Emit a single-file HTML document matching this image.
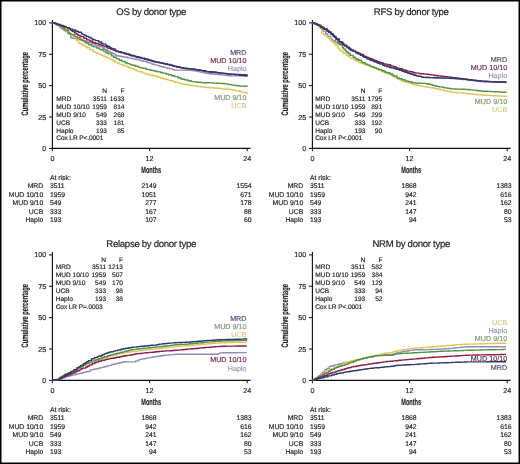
<!DOCTYPE html>
<html><head><meta charset="utf-8"><style>
html,body{margin:0;padding:0;background:#fff;}
body{width:520px;height:464px;overflow:hidden;}
svg{display:block;font-family:"Liberation Sans", sans-serif;text-rendering:geometricPrecision;}
text{stroke-width:0.16px;}
</style></head><body>
<svg width="520" height="464" viewBox="0 0 520 464">
<defs><filter id="bl" x="0" y="0" width="1" height="1"><feGaussianBlur stdDeviation="0.35"/></filter></defs>
<g filter="url(#bl)">
<rect x="0" y="0" width="520" height="464" fill="#fff"/>
<g transform="translate(0 0)"><text x="151.2" y="15" font-size="9.6" text-anchor="middle" fill="#1a1a1a" stroke="#1a1a1a" letter-spacing="-0.3">OS by donor type</text><path d="M52.4 20V149M51.8 148.4H250.5" stroke="#111" stroke-width="1.15" fill="none"/><path d="M49 148.40H52.4" stroke="#111" stroke-width="1"/><text x="46.2" y="150.9" font-size="7.2" text-anchor="end" fill="#222" stroke="#222" >0</text><path d="M49 117.03H52.4" stroke="#111" stroke-width="1"/><text x="46.2" y="119.525" font-size="7.2" text-anchor="end" fill="#222" stroke="#222" >25</text><path d="M49 85.65H52.4" stroke="#111" stroke-width="1"/><text x="46.2" y="88.15" font-size="7.2" text-anchor="end" fill="#222" stroke="#222" >50</text><path d="M49 54.28H52.4" stroke="#111" stroke-width="1"/><text x="46.2" y="56.77500000000002" font-size="7.2" text-anchor="end" fill="#222" stroke="#222" >75</text><path d="M49 22.90H52.4" stroke="#111" stroke-width="1"/><text x="46.2" y="25.40000000000002" font-size="7.2" text-anchor="end" fill="#222" stroke="#222" >100</text><path d="M52.4 148.4V151.2" stroke="#111" stroke-width="1"/><text x="52.4" y="160.9" font-size="7.2" text-anchor="middle" fill="#222" stroke="#222" >0</text><path d="M149.6 148.4V151.2" stroke="#111" stroke-width="1"/><text x="149.6" y="160.9" font-size="7.2" text-anchor="middle" fill="#222" stroke="#222" >12</text><path d="M247.2 148.4V151.2" stroke="#111" stroke-width="1"/><text x="247.2" y="160.9" font-size="7.2" text-anchor="middle" fill="#222" stroke="#222" >24</text><text transform="translate(28.4 83.7) rotate(-90) scale(0.607 1)" font-size="9.5" font-weight="bold" text-anchor="middle" fill="#222" stroke="#222" stroke-width="0.15">Cumulative percentage</text><text transform="translate(151.2 173.4) scale(0.615 1)" font-size="9.15" font-weight="bold" text-anchor="middle" fill="#222" stroke="#222" stroke-width="0.15">Months</text><text x="107" y="93" font-size="6.6" text-anchor="end" fill="#222" stroke="#222" >N</text><text x="124.5" y="93" font-size="6.6" text-anchor="end" fill="#222" stroke="#222" >F</text><text x="56.3" y="100.9" font-size="6.6" text-anchor="start" fill="#222" stroke="#222" >MRD</text><text x="107" y="100.9" font-size="6.6" text-anchor="end" fill="#222" stroke="#222" >3511</text><text x="124.5" y="100.9" font-size="6.6" text-anchor="end" fill="#222" stroke="#222" >1633</text><text x="56.3" y="108.8" font-size="6.6" text-anchor="start" fill="#222" stroke="#222" >MUD 10/10</text><text x="107" y="108.8" font-size="6.6" text-anchor="end" fill="#222" stroke="#222" >1959</text><text x="124.5" y="108.8" font-size="6.6" text-anchor="end" fill="#222" stroke="#222" >814</text><text x="56.3" y="116.7" font-size="6.6" text-anchor="start" fill="#222" stroke="#222" >MUD 9/10</text><text x="107" y="116.7" font-size="6.6" text-anchor="end" fill="#222" stroke="#222" >549</text><text x="124.5" y="116.7" font-size="6.6" text-anchor="end" fill="#222" stroke="#222" >268</text><text x="56.3" y="124.6" font-size="6.6" text-anchor="start" fill="#222" stroke="#222" >UCB</text><text x="107" y="124.6" font-size="6.6" text-anchor="end" fill="#222" stroke="#222" >333</text><text x="124.5" y="124.6" font-size="6.6" text-anchor="end" fill="#222" stroke="#222" >181</text><text x="56.3" y="132.5" font-size="6.6" text-anchor="start" fill="#222" stroke="#222" >Haplo</text><text x="107" y="132.5" font-size="6.6" text-anchor="end" fill="#222" stroke="#222" >193</text><text x="124.5" y="132.5" font-size="6.6" text-anchor="end" fill="#222" stroke="#222" >85</text><text x="56.3" y="140.4" font-size="6.6" text-anchor="start" fill="#222" stroke="#222" letter-spacing="-0.12">Cox LR P&lt;.0001</text><text x="246.5" y="54.5" font-size="7.2" text-anchor="end" fill="#48526e" stroke="#48526e" >MRD</text><text x="246.5" y="63" font-size="7.2" text-anchor="end" fill="#6e2a45" stroke="#6e2a45" >MUD 10/10</text><text x="246.5" y="71.1" font-size="7.2" text-anchor="end" fill="#9696b4" stroke="#9696b4" >Haplo</text><text x="246.5" y="99.5" font-size="7.2" text-anchor="end" fill="#7a9a70" stroke="#7a9a70" >MUD 9/10</text><text x="246.5" y="107.8" font-size="7.2" text-anchor="end" fill="#dac982" stroke="#dac982" >UCB</text><text x="50" y="179.5" font-size="6.8" text-anchor="start" fill="#222" stroke="#222" >At risk:</text><text x="43.2" y="188.0" font-size="6.8" text-anchor="end" fill="#222" stroke="#222" >MRD</text><text x="50" y="188.0" font-size="6.8" text-anchor="start" fill="#222" stroke="#222" >3511</text><text x="156.5" y="188.0" font-size="6.8" text-anchor="end" fill="#222" stroke="#222" >2149</text><text x="251.5" y="188.0" font-size="6.8" text-anchor="end" fill="#222" stroke="#222" >1554</text><text x="43.2" y="196.6" font-size="6.8" text-anchor="end" fill="#222" stroke="#222" >MUD 10/10</text><text x="50" y="196.6" font-size="6.8" text-anchor="start" fill="#222" stroke="#222" >1959</text><text x="156.5" y="196.6" font-size="6.8" text-anchor="end" fill="#222" stroke="#222" >1051</text><text x="251.5" y="196.6" font-size="6.8" text-anchor="end" fill="#222" stroke="#222" >671</text><text x="43.2" y="205.2" font-size="6.8" text-anchor="end" fill="#222" stroke="#222" >MUD 9/10</text><text x="50" y="205.2" font-size="6.8" text-anchor="start" fill="#222" stroke="#222" >549</text><text x="156.5" y="205.2" font-size="6.8" text-anchor="end" fill="#222" stroke="#222" >277</text><text x="251.5" y="205.2" font-size="6.8" text-anchor="end" fill="#222" stroke="#222" >178</text><text x="43.2" y="213.8" font-size="6.8" text-anchor="end" fill="#222" stroke="#222" >UCB</text><text x="50" y="213.8" font-size="6.8" text-anchor="start" fill="#222" stroke="#222" >333</text><text x="156.5" y="213.8" font-size="6.8" text-anchor="end" fill="#222" stroke="#222" >167</text><text x="251.5" y="213.8" font-size="6.8" text-anchor="end" fill="#222" stroke="#222" >88</text><text x="43.2" y="222.4" font-size="6.8" text-anchor="end" fill="#222" stroke="#222" >Haplo</text><text x="50" y="222.4" font-size="6.8" text-anchor="start" fill="#222" stroke="#222" >193</text><text x="156.5" y="222.4" font-size="6.8" text-anchor="end" fill="#222" stroke="#222" >107</text><text x="251.5" y="222.4" font-size="6.8" text-anchor="end" fill="#222" stroke="#222" >60</text></g>
<path d="M52.3 22.8H53.7V23.2H56.7V25.2H59.4V27.3H61.1V28.5H63.3V30.1H65.4V31.6H67.9V33.7H70.7V37.6H72.1V38.3H73.2V38.5H76.2V39.0H78.2V39.6H81.0V40.4H82.1V40.7H84.2V41.3H86.9V42.0H88.5V42.5H91.6V43.8H94.7V44.8H95.9V45.3H97.0V45.7H99.3V46.6H102.5V48.3H104.4V49.4H106.0V50.3H108.0V51.3H109.2V52.0H110.8V52.8H112.9V53.9H115.1V55.1H116.7V55.7H118.3V56.0H119.9V56.3H122.0V56.7H123.7V57.0H124.9V57.3H127.8V57.9H130.1V58.4H132.6V58.9H134.1V59.2H137.4V59.9H140.4V60.6H141.8V61.0H143.6V61.4H146.3V62.2H149.0V63.1H152.1V64.2H154.2V64.9H157.1V65.6H159.7V66.3H161.4V66.7H163.8V67.4H166.9V68.2H169.8V68.9H172.0V69.5H174.4V70.1H175.6V70.1H177.2V70.1H180.1V70.1H182.1V70.1H183.6V70.1H185.9V70.2H188.5V70.3H191.1V70.5H193.0V70.7H195.1V71.1H197.3V71.6H200.1V72.1H202.4V72.6H204.4V73.0H206.5V73.4H207.7V73.5H208.9V73.7H211.5V74.0H214.8V74.4H217.2V74.6H219.2V74.8H220.6V74.9H222.9V75.1H226.1V75.5H228.9V75.7H231.2V75.9H234.2V75.9H235.8V75.9H238.0V75.9H241.2V76.0H243.6V76.2H245.7V76.4H247.4V76.5H247.4V76.5" fill="none" stroke="#8e8bb6" stroke-width="1.4" stroke-linejoin="round"/>
<path d="M52.3 22.8H55.5V24.1H58.7V25.9H59.9V26.5H61.2V27.4H64.1V29.7H66.9V31.9H69.4V34.0H71.2V35.5H73.6V37.5H76.1V40.2H78.5V42.7H79.9V43.6H82.0V44.8H83.9V46.0H86.6V47.7H89.9V49.8H93.1V51.7H95.4V52.6H97.5V53.5H99.2V54.2H100.3V54.8H101.5V55.3H103.6V56.2H105.4V57.0H107.3V57.9H110.4V59.6H112.7V60.8H115.0V62.1H116.6V62.9H117.8V63.3H119.6V64.1H121.0V64.6H123.2V65.5H126.5V66.8H129.1V67.9H130.6V68.5H133.7V69.7H136.5V70.9H139.2V71.8H142.3V72.9H145.1V73.9H147.9V74.6H149.8V75.0H153.1V75.8H156.3V76.7H157.7V77.2H160.5V78.0H163.2V78.8H165.3V79.3H167.6V79.9H169.7V80.6H172.9V81.6H175.1V82.3H178.0V83.0H179.9V83.5H182.9V84.2H186.0V84.7H188.1V85.0H190.5V85.4H193.6V85.9H196.3V86.3H198.5V86.6H200.0V86.8H201.9V87.0H204.5V87.3H206.0V87.5H209.1V87.7H210.7V87.8H213.9V88.0H215.6V88.2H218.8V88.5H221.5V88.8H223.7V89.0H225.9V89.2H228.5V89.4H230.9V89.7H232.7V90.0H234.2V90.4H236.4V90.8H239.6V91.5H242.1V92.1H243.3V92.5H246.2V93.3H247.4V93.6" fill="none" stroke="#e0c752" stroke-width="1.4" stroke-linejoin="round"/>
<path d="M52.3 22.8H53.9V23.3H56.2V24.4H58.1V25.3H60.6V26.5H63.0V28.5H64.3V29.5H65.4V30.4H68.4V32.8H70.0V33.9H71.6V34.8H74.9V36.6H77.1V37.7H80.0V39.3H82.2V40.5H84.7V42.2H86.1V43.2H88.6V44.8H91.6V46.0H93.8V46.9H96.6V48.0H99.2V49.1H100.4V49.7H103.2V51.1H105.6V52.3H107.3V53.2H108.5V53.9H111.5V55.9H113.6V57.2H116.3V58.9H119.4V60.3H122.0V61.5H125.2V62.8H127.1V63.6H130.0V64.6H132.1V65.2H135.2V66.2H138.3V67.1H139.6V67.5H141.0V67.9H142.5V68.3H145.8V69.2H147.8V69.6H150.3V70.2H152.1V70.5H154.3V71.0H156.2V71.5H158.1V71.9H160.5V72.5H162.9V73.1H166.0V74.0H168.6V74.8H171.7V75.7H174.7V76.6H178.0V77.8H180.6V78.7H182.0V79.2H185.0V80.0H188.2V80.8H191.3V81.6H193.7V81.9H196.3V82.2H197.9V82.3H200.8V82.6H203.2V82.7H204.9V82.8H206.2V82.8H209.1V82.9H212.4V83.0H213.7V83.1H216.6V83.2H218.6V83.3H220.0V83.4H221.8V83.5H224.5V83.9H227.6V84.4H228.8V84.5H231.2V84.9H232.4V85.1H235.1V85.5H236.9V85.7H240.0V86.1H243.2V86.2H245.4V86.3H247.4V86.4" fill="none" stroke="#55924a" stroke-width="1.4" stroke-linejoin="round"/>
<path d="M52.3 22.8H53.9V23.3H55.2V23.8H57.2V24.4H58.7V24.9H59.9V25.4H61.9V26.2H65.0V27.6H67.9V28.9H70.7V30.4H72.2V31.5H74.5V32.9H76.2V34.0H77.7V35.0H79.0V35.7H80.6V36.6H83.8V38.3H86.7V39.9H89.6V41.0H92.4V42.2H93.9V42.7H95.7V43.4H98.2V44.3H100.9V45.4H103.9V46.6H106.9V47.8H108.2V48.3H110.7V49.2H113.2V50.2H115.4V51.0H116.9V51.5H119.1V52.2H120.4V52.6H123.5V53.5H126.5V54.4H128.8V55.1H130.6V55.7H133.7V56.5H136.1V57.2H139.1V57.9H142.1V58.6H144.3V59.2H146.3V59.7H148.7V60.4H150.8V60.9H152.2V61.3H154.0V61.8H156.9V62.4H158.1V62.6H159.3V62.9H161.7V63.4H163.5V63.7H165.7V64.3H167.9V64.8H169.7V65.3H173.0V66.2H174.6V66.6H176.6V67.0H178.1V67.3H180.6V67.9H182.3V68.2H184.2V68.5H186.9V68.7H188.7V68.9H191.1V69.1H194.2V69.5H195.5V69.7H196.7V69.9H198.3V70.2H201.1V70.6H203.6V71.2H205.2V71.6H207.0V71.9H208.5V72.0H210.6V72.2H211.8V72.3H214.4V72.6H217.5V72.9H220.7V73.2H223.4V73.5H226.6V73.8H227.8V73.9H229.5V74.1H232.7V74.3H235.5V74.4H237.5V74.5H240.7V74.7H243.2V74.8H246.1V74.9H247.4V75.0" fill="none" stroke="#901c48" stroke-width="1.4" stroke-linejoin="round"/>
<path d="M52.3 22.8H54.8V23.6H57.5V24.5H60.4V25.5H63.5V26.6H66.3V27.6H69.4V28.7H70.5V29.1H72.7V30.0H75.8V31.3H78.4V32.3H81.5V33.9H82.8V34.6H84.9V35.6H86.6V36.4H88.9V37.5H91.2V38.6H92.4V39.2H93.9V39.9H95.7V40.6H98.8V42.0H101.6V43.4H103.0V44.1H105.9V45.5H107.3V46.2H109.7V47.6H111.1V48.3H112.2V48.9H115.2V50.5H116.8V51.2H118.4V51.6H121.6V52.6H124.6V53.5H126.4V54.0H129.6V54.9H131.9V55.5H134.5V56.3H136.0V56.7H139.2V57.5H141.8V58.2H145.0V59.0H148.1V59.8H149.9V60.3H151.8V60.9H153.2V61.3H154.6V61.7H155.9V61.9H157.6V62.3H160.1V62.8H161.2V63.0H163.8V63.6H165.6V64.0H167.4V64.4H170.3V65.2H172.5V65.8H174.3V66.3H176.4V66.8H179.1V67.3H180.3V67.6H183.5V68.2H184.7V68.3H187.4V68.6H190.4V68.9H191.5V69.0H194.4V69.4H196.3V69.7H198.6V70.0H199.8V70.2H201.0V70.4H202.5V70.7H205.7V71.4H207.2V71.6H210.0V71.8H213.1V72.0H216.3V72.5H218.1V72.8H220.0V73.1H222.3V73.4H225.1V73.6H226.4V73.8H229.2V74.1H232.0V74.4H235.0V74.7H236.2V74.8H239.4V75.2H240.7V75.3H242.5V75.4H245.0V75.6H247.4V75.8" fill="none" stroke="#2c3d70" stroke-width="1.4" stroke-linejoin="round"/>
<g transform="translate(260 0)"><text x="151.2" y="15" font-size="9.6" text-anchor="middle" fill="#1a1a1a" stroke="#1a1a1a" letter-spacing="-0.3">RFS by donor type</text><path d="M52.4 20V149M51.8 148.4H250.5" stroke="#111" stroke-width="1.15" fill="none"/><path d="M49 148.40H52.4" stroke="#111" stroke-width="1"/><text x="46.2" y="150.9" font-size="7.2" text-anchor="end" fill="#222" stroke="#222" >0</text><path d="M49 117.03H52.4" stroke="#111" stroke-width="1"/><text x="46.2" y="119.525" font-size="7.2" text-anchor="end" fill="#222" stroke="#222" >25</text><path d="M49 85.65H52.4" stroke="#111" stroke-width="1"/><text x="46.2" y="88.15" font-size="7.2" text-anchor="end" fill="#222" stroke="#222" >50</text><path d="M49 54.28H52.4" stroke="#111" stroke-width="1"/><text x="46.2" y="56.77500000000002" font-size="7.2" text-anchor="end" fill="#222" stroke="#222" >75</text><path d="M49 22.90H52.4" stroke="#111" stroke-width="1"/><text x="46.2" y="25.40000000000002" font-size="7.2" text-anchor="end" fill="#222" stroke="#222" >100</text><path d="M52.4 148.4V151.2" stroke="#111" stroke-width="1"/><text x="52.4" y="160.9" font-size="7.2" text-anchor="middle" fill="#222" stroke="#222" >0</text><path d="M149.6 148.4V151.2" stroke="#111" stroke-width="1"/><text x="149.6" y="160.9" font-size="7.2" text-anchor="middle" fill="#222" stroke="#222" >12</text><path d="M247.2 148.4V151.2" stroke="#111" stroke-width="1"/><text x="247.2" y="160.9" font-size="7.2" text-anchor="middle" fill="#222" stroke="#222" >24</text><text transform="translate(28.4 83.7) rotate(-90) scale(0.607 1)" font-size="9.5" font-weight="bold" text-anchor="middle" fill="#222" stroke="#222" stroke-width="0.15">Cumulative percentage</text><text transform="translate(151.2 173.4) scale(0.615 1)" font-size="9.15" font-weight="bold" text-anchor="middle" fill="#222" stroke="#222" stroke-width="0.15">Months</text><text x="105.5" y="93" font-size="6.6" text-anchor="end" fill="#222" stroke="#222" >N</text><text x="122.2" y="93" font-size="6.6" text-anchor="end" fill="#222" stroke="#222" >F</text><text x="55.2" y="100.9" font-size="6.6" text-anchor="start" fill="#222" stroke="#222" >MRD</text><text x="105.5" y="100.9" font-size="6.6" text-anchor="end" fill="#222" stroke="#222" >3511</text><text x="122.2" y="100.9" font-size="6.6" text-anchor="end" fill="#222" stroke="#222" >1795</text><text x="55.2" y="108.8" font-size="6.6" text-anchor="start" fill="#222" stroke="#222" >MUD 10/10</text><text x="105.5" y="108.8" font-size="6.6" text-anchor="end" fill="#222" stroke="#222" >1959</text><text x="122.2" y="108.8" font-size="6.6" text-anchor="end" fill="#222" stroke="#222" >891</text><text x="55.2" y="116.7" font-size="6.6" text-anchor="start" fill="#222" stroke="#222" >MUD 9/10</text><text x="105.5" y="116.7" font-size="6.6" text-anchor="end" fill="#222" stroke="#222" >549</text><text x="122.2" y="116.7" font-size="6.6" text-anchor="end" fill="#222" stroke="#222" >299</text><text x="55.2" y="124.6" font-size="6.6" text-anchor="start" fill="#222" stroke="#222" >UCB</text><text x="105.5" y="124.6" font-size="6.6" text-anchor="end" fill="#222" stroke="#222" >333</text><text x="122.2" y="124.6" font-size="6.6" text-anchor="end" fill="#222" stroke="#222" >192</text><text x="55.2" y="132.5" font-size="6.6" text-anchor="start" fill="#222" stroke="#222" >Haplo</text><text x="105.5" y="132.5" font-size="6.6" text-anchor="end" fill="#222" stroke="#222" >193</text><text x="122.2" y="132.5" font-size="6.6" text-anchor="end" fill="#222" stroke="#222" >90</text><text x="55.2" y="140.4" font-size="6.6" text-anchor="start" fill="#222" stroke="#222" letter-spacing="-0.12">Cox LR P&lt;.0001</text><text x="247.2" y="61.8" font-size="7.2" text-anchor="end" fill="#48526e" stroke="#48526e" >MRD</text><text x="247.2" y="70.3" font-size="7.2" text-anchor="end" fill="#6e2a45" stroke="#6e2a45" >MUD 10/10</text><text x="247.2" y="78.3" font-size="7.2" text-anchor="end" fill="#9696b4" stroke="#9696b4" >Haplo</text><text x="247.2" y="104.2" font-size="7.2" text-anchor="end" fill="#7a9a70" stroke="#7a9a70" >MUD 9/10</text><text x="247.2" y="112.3" font-size="7.2" text-anchor="end" fill="#dac982" stroke="#dac982" >UCB</text><text x="50" y="179.5" font-size="6.8" text-anchor="start" fill="#222" stroke="#222" >At risk:</text><text x="43.2" y="188.0" font-size="6.8" text-anchor="end" fill="#222" stroke="#222" >MRD</text><text x="50" y="188.0" font-size="6.8" text-anchor="start" fill="#222" stroke="#222" >3511</text><text x="156.5" y="188.0" font-size="6.8" text-anchor="end" fill="#222" stroke="#222" >1868</text><text x="251.5" y="188.0" font-size="6.8" text-anchor="end" fill="#222" stroke="#222" >1383</text><text x="43.2" y="196.6" font-size="6.8" text-anchor="end" fill="#222" stroke="#222" >MUD 10/10</text><text x="50" y="196.6" font-size="6.8" text-anchor="start" fill="#222" stroke="#222" >1959</text><text x="156.5" y="196.6" font-size="6.8" text-anchor="end" fill="#222" stroke="#222" >942</text><text x="251.5" y="196.6" font-size="6.8" text-anchor="end" fill="#222" stroke="#222" >616</text><text x="43.2" y="205.2" font-size="6.8" text-anchor="end" fill="#222" stroke="#222" >MUD 9/10</text><text x="50" y="205.2" font-size="6.8" text-anchor="start" fill="#222" stroke="#222" >549</text><text x="156.5" y="205.2" font-size="6.8" text-anchor="end" fill="#222" stroke="#222" >241</text><text x="251.5" y="205.2" font-size="6.8" text-anchor="end" fill="#222" stroke="#222" >162</text><text x="43.2" y="213.8" font-size="6.8" text-anchor="end" fill="#222" stroke="#222" >UCB</text><text x="50" y="213.8" font-size="6.8" text-anchor="start" fill="#222" stroke="#222" >333</text><text x="156.5" y="213.8" font-size="6.8" text-anchor="end" fill="#222" stroke="#222" >147</text><text x="251.5" y="213.8" font-size="6.8" text-anchor="end" fill="#222" stroke="#222" >80</text><text x="43.2" y="222.4" font-size="6.8" text-anchor="end" fill="#222" stroke="#222" >Haplo</text><text x="50" y="222.4" font-size="6.8" text-anchor="start" fill="#222" stroke="#222" >193</text><text x="156.5" y="222.4" font-size="6.8" text-anchor="end" fill="#222" stroke="#222" >94</text><text x="251.5" y="222.4" font-size="6.8" text-anchor="end" fill="#222" stroke="#222" >53</text></g>
<path d="M312.4 22.8H315.2V24.0H318.2V25.4H320.3V28.2H322.0V30.0H323.1V31.1H325.7V33.8H327.8V36.4H330.6V39.2H332.5V40.7H335.3V42.3H337.0V42.9H339.8V44.1H342.5V45.2H344.6V46.4H346.8V47.8H349.4V49.0H351.0V49.8H353.3V51.1H356.2V52.7H357.8V53.6H360.7V55.2H363.3V56.7H366.3V58.5H368.1V59.3H369.4V59.8H372.3V60.9H375.1V61.9H377.2V62.7H378.5V63.2H380.1V63.8H382.6V64.8H384.3V65.5H387.5V66.5H389.9V67.2H391.4V67.6H394.0V68.3H395.9V68.8H399.0V69.8H402.1V70.9H404.4V71.7H406.9V72.6H409.5V73.5H412.4V74.5H415.6V75.4H416.8V75.7H418.7V76.2H421.1V76.8H422.9V77.2H425.3V77.4H426.6V77.4H429.6V77.6H431.9V77.7H433.2V77.8H435.8V78.0H437.6V78.0H439.1V78.1H441.3V78.2H442.7V78.3H444.2V78.3H447.2V78.4H449.9V78.5H451.0V78.5H453.8V78.7H454.9V78.8H456.8V78.9H459.9V79.2H462.3V79.5H464.1V79.6H466.0V79.8H468.0V80.0H469.4V80.2H472.7V80.6H473.9V80.7H475.9V80.9H478.7V81.3H480.6V81.5H483.9V81.7H485.5V81.7H488.8V81.9H491.9V82.0H494.4V82.1H497.5V82.2H499.6V82.2H502.5V82.4H505.3V82.5H506.5V82.5" fill="none" stroke="#8e8bb6" stroke-width="1.4" stroke-linejoin="round"/>
<path d="M312.4 22.8H314.2V23.6H315.6V24.2H318.2V25.5H319.4V27.9H321.7V33.1H323.6V34.6H324.8V35.6H327.1V37.3H328.2V38.2H330.3V40.1H331.6V41.3H332.9V42.6H334.9V44.8H337.8V48.3H339.2V49.6H340.8V51.2H343.2V53.3H346.4V55.5H348.8V57.1H350.8V58.4H354.0V60.1H355.2V60.7H358.2V62.2H360.0V62.9H361.4V63.4H362.7V63.9H364.5V64.5H367.4V65.6H368.9V66.1H371.3V67.0H373.8V68.0H375.7V68.7H378.0V69.8H379.2V70.4H380.5V70.9H382.0V71.7H384.6V72.8H386.7V73.6H388.5V74.3H390.9V75.4H392.9V76.8H394.7V77.9H397.6V79.4H400.2V80.4H401.8V81.0H404.2V81.8H406.4V82.6H409.5V83.4H412.2V84.2H413.9V84.7H417.2V85.4H418.5V85.7H420.5V86.1H423.3V86.6H424.7V86.9H426.9V87.2H428.1V87.4H430.7V87.8H433.5V88.2H435.8V88.7H438.8V89.5H440.6V89.9H443.3V90.6H445.7V91.1H448.1V91.5H450.2V92.0H453.1V92.4H456.3V92.7H458.4V92.9H461.0V93.1H462.2V93.3H464.9V93.5H467.4V93.7H470.7V94.0H473.6V94.3H475.3V94.5H477.3V94.7H479.8V94.9H481.0V95.0H483.1V95.2H484.6V95.2H485.9V95.3H487.1V95.4H489.9V95.5H491.3V95.6H493.0V95.7H494.9V95.8H497.9V96.0H499.2V96.0H501.3V96.1H503.6V96.2H506.5V96.4" fill="none" stroke="#e0c752" stroke-width="1.4" stroke-linejoin="round"/>
<path d="M312.4 22.8H314.0V23.5H317.2V24.9H318.6V25.6H321.2V27.3H322.5V28.1H324.2V29.1H327.5V31.3H329.0V32.4H331.5V34.6H333.7V36.5H335.8V39.8H337.9V43.2H339.5V44.8H342.4V47.7H343.7V49.1H345.3V50.7H346.4V51.9H348.1V53.5H350.1V55.4H353.2V57.3H355.2V58.5H356.5V59.3H358.2V60.3H361.5V62.1H362.7V62.7H365.2V64.0H367.1V64.9H369.6V66.0H371.5V66.7H374.1V67.7H376.3V68.6H378.8V69.6H381.9V70.8H384.3V71.8H385.7V72.3H386.9V72.7H390.1V73.7H392.3V75.1H393.8V76.0H397.0V77.9H399.4V78.8H402.1V79.8H405.1V80.9H406.9V81.3H408.7V81.8H411.8V82.5H413.2V82.8H415.9V83.1H417.3V83.2H419.9V83.3H422.5V83.4H425.7V83.8H428.7V84.2H430.9V84.8H432.4V85.3H433.8V85.7H436.1V86.2H438.3V86.6H439.6V86.9H442.7V87.5H444.9V87.9H447.5V88.2H449.1V88.5H450.8V88.7H451.9V88.9H453.7V89.0H455.4V89.0H457.5V89.1H459.4V89.2H462.3V89.3H465.4V89.4H466.9V89.5H468.8V89.7H470.3V89.9H472.9V90.1H476.1V90.5H477.6V90.7H480.4V91.0H482.2V91.1H483.3V91.2H486.1V91.3H488.0V91.4H489.4V91.5H491.5V91.6H493.1V91.7H495.1V91.8H497.2V91.9H499.2V92.0H501.6V92.1H503.3V92.2H504.6V92.3H505.9V92.4H506.5V92.4" fill="none" stroke="#55924a" stroke-width="1.4" stroke-linejoin="round"/>
<path d="M312.4 22.8H314.5V23.7H316.4V24.5H317.8V25.1H320.9V27.1H322.0V27.7H324.2V29.1H327.2V31.1H328.5V32.0H330.8V34.0H333.3V36.1H334.5V37.3H336.4V39.2H339.1V41.6H341.2V43.3H343.9V45.1H345.3V46.0H346.9V47.1H348.3V48.3H350.5V50.1H353.6V51.4H356.0V52.4H358.8V53.5H360.8V54.5H363.5V55.9H364.8V56.5H366.6V57.4H369.2V58.5H371.9V59.5H373.9V60.3H375.2V60.8H376.9V61.4H378.4V62.0H380.1V62.6H383.0V63.6H384.6V64.1H387.6V64.8H390.6V65.6H391.9V66.1H393.8V66.8H396.0V67.7H397.1V68.1H399.2V68.7H402.3V69.6H403.6V70.0H406.0V70.7H407.4V71.1H409.8V71.7H412.8V72.4H414.4V72.8H415.5V72.9H416.8V73.1H419.1V73.5H420.2V73.7H421.5V73.8H423.7V74.1H426.8V74.3H428.8V74.6H430.8V74.9H433.3V75.3H434.6V75.5H437.0V75.8H438.5V75.9H440.9V76.2H444.1V76.5H445.3V76.7H447.7V77.0H450.1V77.3H451.5V77.5H453.2V77.7H456.5V78.1H459.8V78.5H461.2V78.7H463.8V79.0H467.0V79.4H468.6V79.6H471.1V79.9H472.3V80.1H474.2V80.3H476.8V80.6H479.2V80.9H482.0V81.2H483.3V81.3H485.1V81.3H488.1V81.5H490.5V81.6H492.6V81.6H494.6V81.7H497.9V81.9H500.2V81.9H501.4V82.0H504.2V82.1H506.0V82.2H506.5V82.2" fill="none" stroke="#901c48" stroke-width="1.4" stroke-linejoin="round"/>
<path d="M312.4 22.8H314.8V23.8H316.8V24.7H319.2V26.0H320.7V27.0H323.6V28.7H326.5V30.6H329.1V32.4H330.5V33.7H332.8V35.7H334.6V37.4H336.2V39.0H339.4V41.9H342.7V44.4H343.9V45.1H346.9V47.1H349.3V49.3H351.3V50.5H353.0V51.4H355.6V52.7H357.7V53.7H360.3V55.2H362.9V56.6H364.3V57.4H367.0V58.9H370.3V60.2H373.5V61.5H376.0V62.4H377.2V62.9H378.3V63.4H379.7V63.9H382.9V65.2H384.6V65.9H386.5V66.5H389.6V67.5H391.4V67.9H393.7V68.5H395.8V69.0H397.0V69.3H399.4V70.2H402.3V71.2H403.8V71.7H405.4V72.3H407.4V73.0H408.6V73.4H410.8V74.2H413.7V75.2H416.2V75.9H418.5V76.4H421.5V77.1H422.9V77.4H425.2V77.5H427.2V77.5H429.6V77.6H430.9V77.6H433.7V77.7H435.1V77.7H436.5V77.8H439.4V77.9H442.6V78.1H444.6V78.1H446.7V78.1H448.3V78.2H450.0V78.2H452.5V78.3H453.9V78.4H455.3V78.5H457.4V78.7H458.9V78.9H461.4V79.1H464.3V79.4H467.1V79.7H469.3V80.0H471.1V80.2H473.2V80.4H474.3V80.6H477.0V80.9H478.8V81.1H480.6V81.3H481.9V81.4H484.0V81.5H486.3V81.6H488.3V81.6H491.3V81.7H493.9V81.8H495.5V81.9H497.8V82.0H500.9V82.1H503.1V82.2H505.6V82.3H506.5V82.3" fill="none" stroke="#2c3d70" stroke-width="1.4" stroke-linejoin="round"/>
<g transform="translate(0 232)"><text x="151.2" y="15" font-size="9.6" text-anchor="middle" fill="#1a1a1a" stroke="#1a1a1a" letter-spacing="-0.3">Relapse by donor type</text><path d="M52.4 20V149M51.8 148.4H250.5" stroke="#111" stroke-width="1.15" fill="none"/><path d="M49 148.40H52.4" stroke="#111" stroke-width="1"/><text x="46.2" y="150.9" font-size="7.2" text-anchor="end" fill="#222" stroke="#222" >0</text><path d="M49 117.03H52.4" stroke="#111" stroke-width="1"/><text x="46.2" y="119.525" font-size="7.2" text-anchor="end" fill="#222" stroke="#222" >25</text><path d="M49 85.65H52.4" stroke="#111" stroke-width="1"/><text x="46.2" y="88.15" font-size="7.2" text-anchor="end" fill="#222" stroke="#222" >50</text><path d="M49 54.28H52.4" stroke="#111" stroke-width="1"/><text x="46.2" y="56.77500000000002" font-size="7.2" text-anchor="end" fill="#222" stroke="#222" >75</text><path d="M49 22.90H52.4" stroke="#111" stroke-width="1"/><text x="46.2" y="25.40000000000002" font-size="7.2" text-anchor="end" fill="#222" stroke="#222" >100</text><path d="M52.4 148.4V151.2" stroke="#111" stroke-width="1"/><text x="52.4" y="160.9" font-size="7.2" text-anchor="middle" fill="#222" stroke="#222" >0</text><path d="M149.6 148.4V151.2" stroke="#111" stroke-width="1"/><text x="149.6" y="160.9" font-size="7.2" text-anchor="middle" fill="#222" stroke="#222" >12</text><path d="M247.2 148.4V151.2" stroke="#111" stroke-width="1"/><text x="247.2" y="160.9" font-size="7.2" text-anchor="middle" fill="#222" stroke="#222" >24</text><text transform="translate(28.4 83.7) rotate(-90) scale(0.607 1)" font-size="9.5" font-weight="bold" text-anchor="middle" fill="#222" stroke="#222" stroke-width="0.15">Cumulative percentage</text><text transform="translate(151.2 173.4) scale(0.615 1)" font-size="9.15" font-weight="bold" text-anchor="middle" fill="#222" stroke="#222" stroke-width="0.15">Months</text><text x="106.1" y="29.5" font-size="6.6" text-anchor="end" fill="#222" stroke="#222" >N</text><text x="123" y="29.5" font-size="6.6" text-anchor="end" fill="#222" stroke="#222" >F</text><text x="55.7" y="37.4" font-size="6.6" text-anchor="start" fill="#222" stroke="#222" >MRD</text><text x="106.1" y="37.4" font-size="6.6" text-anchor="end" fill="#222" stroke="#222" >3511</text><text x="123" y="37.4" font-size="6.6" text-anchor="end" fill="#222" stroke="#222" >1213</text><text x="55.7" y="45.3" font-size="6.6" text-anchor="start" fill="#222" stroke="#222" >MUD 10/10</text><text x="106.1" y="45.3" font-size="6.6" text-anchor="end" fill="#222" stroke="#222" >1959</text><text x="123" y="45.3" font-size="6.6" text-anchor="end" fill="#222" stroke="#222" >507</text><text x="55.7" y="53.2" font-size="6.6" text-anchor="start" fill="#222" stroke="#222" >MUD 9/10</text><text x="106.1" y="53.2" font-size="6.6" text-anchor="end" fill="#222" stroke="#222" >549</text><text x="123" y="53.2" font-size="6.6" text-anchor="end" fill="#222" stroke="#222" >170</text><text x="55.7" y="61.1" font-size="6.6" text-anchor="start" fill="#222" stroke="#222" >UCB</text><text x="106.1" y="61.1" font-size="6.6" text-anchor="end" fill="#222" stroke="#222" >333</text><text x="123" y="61.1" font-size="6.6" text-anchor="end" fill="#222" stroke="#222" >98</text><text x="55.7" y="69.0" font-size="6.6" text-anchor="start" fill="#222" stroke="#222" >Haplo</text><text x="106.1" y="69.0" font-size="6.6" text-anchor="end" fill="#222" stroke="#222" >193</text><text x="123" y="69.0" font-size="6.6" text-anchor="end" fill="#222" stroke="#222" >38</text><text x="55.7" y="76.9" font-size="6.6" text-anchor="start" fill="#222" stroke="#222" letter-spacing="-0.12">Cox LR P=.0003</text><text x="246.5" y="88.5" font-size="7.2" text-anchor="end" fill="#48526e" stroke="#48526e" >MRD</text><text x="246.5" y="97" font-size="7.2" text-anchor="end" fill="#7a9a70" stroke="#7a9a70" >MUD 9/10</text><text x="246.5" y="105.19999999999999" font-size="7.2" text-anchor="end" fill="#dac982" stroke="#dac982" >UCB</text><text x="246.5" y="130.2" font-size="7.2" text-anchor="end" fill="#6e2a45" stroke="#6e2a45" >MUD 10/10</text><text x="246.5" y="138.5" font-size="7.2" text-anchor="end" fill="#9696b4" stroke="#9696b4" >Haplo</text><text x="50" y="179.5" font-size="6.8" text-anchor="start" fill="#222" stroke="#222" >At risk:</text><text x="43.2" y="188.0" font-size="6.8" text-anchor="end" fill="#222" stroke="#222" >MRD</text><text x="50" y="188.0" font-size="6.8" text-anchor="start" fill="#222" stroke="#222" >3511</text><text x="156.5" y="188.0" font-size="6.8" text-anchor="end" fill="#222" stroke="#222" >1868</text><text x="251.5" y="188.0" font-size="6.8" text-anchor="end" fill="#222" stroke="#222" >1383</text><text x="43.2" y="196.6" font-size="6.8" text-anchor="end" fill="#222" stroke="#222" >MUD 10/10</text><text x="50" y="196.6" font-size="6.8" text-anchor="start" fill="#222" stroke="#222" >1959</text><text x="156.5" y="196.6" font-size="6.8" text-anchor="end" fill="#222" stroke="#222" >942</text><text x="251.5" y="196.6" font-size="6.8" text-anchor="end" fill="#222" stroke="#222" >616</text><text x="43.2" y="205.2" font-size="6.8" text-anchor="end" fill="#222" stroke="#222" >MUD 9/10</text><text x="50" y="205.2" font-size="6.8" text-anchor="start" fill="#222" stroke="#222" >549</text><text x="156.5" y="205.2" font-size="6.8" text-anchor="end" fill="#222" stroke="#222" >241</text><text x="251.5" y="205.2" font-size="6.8" text-anchor="end" fill="#222" stroke="#222" >162</text><text x="43.2" y="213.8" font-size="6.8" text-anchor="end" fill="#222" stroke="#222" >UCB</text><text x="50" y="213.8" font-size="6.8" text-anchor="start" fill="#222" stroke="#222" >333</text><text x="156.5" y="213.8" font-size="6.8" text-anchor="end" fill="#222" stroke="#222" >147</text><text x="251.5" y="213.8" font-size="6.8" text-anchor="end" fill="#222" stroke="#222" >80</text><text x="43.2" y="222.4" font-size="6.8" text-anchor="end" fill="#222" stroke="#222" >Haplo</text><text x="50" y="222.4" font-size="6.8" text-anchor="start" fill="#222" stroke="#222" >193</text><text x="156.5" y="222.4" font-size="6.8" text-anchor="end" fill="#222" stroke="#222" >94</text><text x="251.5" y="222.4" font-size="6.8" text-anchor="end" fill="#222" stroke="#222" >53</text></g>
<path d="M52.4 380.0H54.5V379.8H56.8V379.6H60.0V378.7H62.1V377.9H64.3V377.1H66.7V376.4H68.2V376.1H70.4V375.5H72.9V374.9H75.8V374.3H77.1V374.1H78.8V373.6H80.1V373.2H83.0V372.4H85.6V371.9H86.8V371.5H90.1V369.9H93.3V369.2H95.9V368.7H98.3V368.3H99.8V367.9H100.9V367.6H103.1V367.0H104.4V366.7H105.9V366.3H107.5V365.9H108.7V365.6H110.8V364.9H112.9V364.3H115.8V363.4H118.1V363.0H120.6V362.5H122.8V362.0H125.3V361.7H127.5V361.9H129.2V361.9H132.5V361.9H135.7V360.9H138.7V359.6H141.4V359.1H143.1V358.8H144.8V358.5H146.5V358.1H147.7V357.9H150.5V357.4H152.5V357.0H155.5V356.5H157.4V356.2H160.6V355.7H163.6V355.3H164.7V355.2H166.3V355.1H169.4V354.9H171.5V354.6H174.8V354.3H176.7V354.3H178.0V354.3H180.5V354.3H183.3V354.3H185.0V354.3H186.3V354.3H188.1V354.3H191.3V354.3H194.1V354.3H195.4V354.3H197.1V354.3H198.4V354.3H199.6V354.3H202.5V354.2H204.0V354.2H206.3V354.2H208.4V354.2H209.9V354.2H212.6V354.2H214.0V354.2H216.5V354.2H217.9V353.6H219.9V352.9H221.5V352.9H223.2V352.8H226.4V352.8H229.3V352.7H231.1V352.7H234.1V352.7H235.7V352.7H237.6V352.6H240.6V352.6H243.1V352.6H244.4V352.6H246.9V352.6" fill="none" stroke="#8e8bb6" stroke-width="1.4" stroke-linejoin="round"/>
<path d="M52.4 380.0H54.5V379.7H57.1V379.3H59.7V377.5H61.1V376.5H62.2V375.8H64.1V374.5H65.8V373.6H68.7V372.2H71.3V370.8H73.7V369.5H76.1V368.3H78.6V367.0H80.0V366.3H82.1V365.2H83.6V364.7H86.7V363.4H87.9V363.0H90.8V362.1H92.1V361.7H94.7V360.8H96.5V360.3H98.5V359.6H101.5V358.6H102.6V358.2H103.8V357.8H106.9V356.7H109.2V356.1H110.5V355.8H113.7V354.9H116.9V354.2H118.3V353.9H120.3V353.5H121.7V353.3H123.5V352.9H126.0V352.5H127.4V352.3H130.0V352.0H131.3V351.8H132.7V351.6H135.6V351.2H137.6V350.9H139.6V350.6H142.0V350.3H144.2V350.0H146.1V349.7H147.3V349.6H150.0V349.4H153.2V349.1H156.5V348.7H159.0V348.5H160.9V348.3H162.8V348.1H165.4V347.8H168.0V347.5H169.4V347.3H171.0V347.1H172.9V346.8H175.1V346.6H178.0V346.4H180.2V346.2H181.4V346.1H184.3V345.9H186.3V345.8H188.6V345.6H190.1V345.4H192.2V345.2H194.1V345.0H196.9V344.7H198.3V344.6H200.6V344.4H202.1V344.3H204.7V344.1H205.9V344.0H207.6V343.9H209.4V343.7H211.9V343.5H213.2V343.4H215.3V343.2H216.8V343.1H218.5V343.0H220.7V342.8H223.9V342.7H226.1V342.6H229.3V342.5H230.7V342.5H233.9V342.4H235.8V342.4H237.3V342.3H240.0V342.3H243.1V342.1H244.3V342.0H245.9V341.9H246.9V341.8" fill="none" stroke="#e0c752" stroke-width="1.4" stroke-linejoin="round"/>
<path d="M52.4 380.0H54.1V379.8H56.7V379.6H59.3V378.2H62.3V376.3H63.8V375.4H65.4V374.5H66.8V373.9H68.4V373.2H71.1V371.8H72.5V371.0H74.8V369.8H76.3V368.9H78.1V367.9H80.1V366.7H83.1V365.1H85.5V364.0H86.6V363.4H88.3V362.7H89.8V362.1H92.8V360.9H95.7V359.8H98.5V358.7H101.5V357.7H104.2V356.7H107.4V355.7H110.2V354.9H111.9V354.5H114.9V353.8H117.0V353.2H119.8V352.5H122.1V352.0H124.2V351.5H126.1V351.0H128.1V350.5H129.9V350.0H131.3V349.8H134.2V349.4H137.0V349.0H140.3V348.6H142.9V348.3H145.2V348.1H148.0V347.8H149.4V347.7H152.0V347.4H154.1V347.2H155.5V347.0H157.1V346.9H159.3V346.7H161.0V346.5H163.1V346.3H165.5V346.0H167.5V345.8H168.9V345.6H171.1V345.3H172.7V345.1H174.3V344.8H175.8V344.7H177.7V344.6H179.0V344.5H181.5V344.4H184.7V344.2H186.7V344.1H189.4V343.8H192.5V343.5H193.7V343.4H195.1V343.2H198.0V342.9H201.0V342.7H203.5V342.4H204.9V342.3H206.9V342.1H209.9V341.9H213.0V341.6H215.8V341.4H217.4V341.3H220.4V341.0H222.3V340.9H225.0V340.8H226.4V340.8H229.6V340.7H232.0V340.7H234.7V340.6H236.3V340.6H238.8V340.5H241.1V340.4H243.5V340.3H245.4V340.3H246.9V340.2" fill="none" stroke="#55924a" stroke-width="1.4" stroke-linejoin="round"/>
<path d="M52.4 380.0H53.7V379.9H56.4V379.6H58.9V378.6H62.1V377.2H63.8V376.5H65.4V375.8H68.2V374.7H70.7V373.7H72.5V373.0H75.1V371.8H77.1V370.8H79.9V369.4H81.2V368.8H82.8V368.1H85.9V367.0H87.8V366.0H89.5V364.9H92.3V363.6H94.8V362.7H96.2V362.1H98.6V361.2H101.1V360.6H102.6V360.2H105.1V359.6H106.5V359.3H108.3V358.9H109.6V358.6H111.2V358.3H114.4V357.7H116.4V357.3H119.7V356.7H121.7V356.2H124.2V355.8H127.2V355.4H129.8V355.0H131.2V354.8H133.6V354.3H136.0V353.8H137.5V353.6H138.9V353.5H141.9V353.1H144.1V352.9H145.6V352.8H147.7V352.6H149.3V352.4H152.2V352.2H154.4V352.0H155.7V351.8H158.6V351.5H159.9V351.4H161.6V351.2H162.8V351.1H165.5V350.9H166.8V350.9H169.1V350.7H170.4V350.7H172.6V350.5H175.2V350.3H177.5V350.1H179.6V349.9H181.7V349.7H183.8V349.5H186.2V349.2H187.5V349.1H189.6V348.9H191.3V348.8H194.3V348.5H197.4V348.2H198.7V348.1H200.1V347.9H202.7V347.7H205.1V347.5H206.2V347.4H208.9V347.2H212.1V346.9H214.1V346.8H216.0V346.6H218.3V346.5H221.5V346.2H223.2V346.2H224.9V346.2H226.4V346.1H228.9V346.1H231.1V346.1H232.7V346.1H234.7V346.1H235.9V346.0H237.6V346.0H240.9V346.0H243.3V346.0H245.0V346.0H246.9V346.0" fill="none" stroke="#901c48" stroke-width="1.4" stroke-linejoin="round"/>
<path d="M52.4 380.0H55.6V379.7H56.7V379.5H59.5V378.0H60.9V377.1H64.2V375.1H65.3V374.5H68.4V373.0H71.0V371.6H73.9V369.8H77.2V367.8H78.9V366.7H80.7V365.4H83.4V363.7H85.1V362.7H86.8V361.6H88.4V360.6H91.4V358.8H94.4V357.6H97.2V356.6H98.8V356.0H102.0V354.8H104.2V353.9H105.8V353.3H107.9V352.5H109.9V352.0H111.2V351.7H113.5V351.1H115.4V350.6H117.8V350.0H120.9V349.3H123.5V348.7H125.4V348.2H128.4V347.8H131.7V347.3H133.9V347.1H137.1V346.7H138.2V346.6H139.6V346.5H141.1V346.3H144.3V346.0H146.9V345.7H149.6V345.5H151.3V345.3H153.5V345.1H156.6V344.7H157.9V344.5H159.2V344.3H160.4V344.1H162.6V343.8H165.5V343.5H167.8V343.3H169.8V343.1H172.0V342.9H173.5V342.8H176.7V342.6H178.6V342.5H180.2V342.5H182.0V342.4H184.9V342.3H186.7V342.2H189.8V342.0H191.6V341.8H193.7V341.6H195.0V341.5H198.1V341.2H200.9V341.0H203.1V340.8H204.4V340.6H206.6V340.5H208.5V340.4H211.5V340.2H214.6V340.0H217.3V339.8H219.1V339.8H220.3V339.7H223.3V339.6H226.5V339.5H228.0V339.5H230.2V339.4H232.3V339.4H235.6V339.3H236.8V339.3H238.0V339.2H240.9V339.1H243.3V338.9H245.4V338.8H246.9V338.7" fill="none" stroke="#2c3d70" stroke-width="1.4" stroke-linejoin="round"/>
<g transform="translate(260 232)"><text x="151.2" y="15" font-size="9.6" text-anchor="middle" fill="#1a1a1a" stroke="#1a1a1a" letter-spacing="-0.3">NRM by donor type</text><path d="M52.4 20V149M51.8 148.4H250.5" stroke="#111" stroke-width="1.15" fill="none"/><path d="M49 148.40H52.4" stroke="#111" stroke-width="1"/><text x="46.2" y="150.9" font-size="7.2" text-anchor="end" fill="#222" stroke="#222" >0</text><path d="M49 117.03H52.4" stroke="#111" stroke-width="1"/><text x="46.2" y="119.525" font-size="7.2" text-anchor="end" fill="#222" stroke="#222" >25</text><path d="M49 85.65H52.4" stroke="#111" stroke-width="1"/><text x="46.2" y="88.15" font-size="7.2" text-anchor="end" fill="#222" stroke="#222" >50</text><path d="M49 54.28H52.4" stroke="#111" stroke-width="1"/><text x="46.2" y="56.77500000000002" font-size="7.2" text-anchor="end" fill="#222" stroke="#222" >75</text><path d="M49 22.90H52.4" stroke="#111" stroke-width="1"/><text x="46.2" y="25.40000000000002" font-size="7.2" text-anchor="end" fill="#222" stroke="#222" >100</text><path d="M52.4 148.4V151.2" stroke="#111" stroke-width="1"/><text x="52.4" y="160.9" font-size="7.2" text-anchor="middle" fill="#222" stroke="#222" >0</text><path d="M149.6 148.4V151.2" stroke="#111" stroke-width="1"/><text x="149.6" y="160.9" font-size="7.2" text-anchor="middle" fill="#222" stroke="#222" >12</text><path d="M247.2 148.4V151.2" stroke="#111" stroke-width="1"/><text x="247.2" y="160.9" font-size="7.2" text-anchor="middle" fill="#222" stroke="#222" >24</text><text transform="translate(28.4 83.7) rotate(-90) scale(0.607 1)" font-size="9.5" font-weight="bold" text-anchor="middle" fill="#222" stroke="#222" stroke-width="0.15">Cumulative percentage</text><text transform="translate(151.2 173.4) scale(0.615 1)" font-size="9.15" font-weight="bold" text-anchor="middle" fill="#222" stroke="#222" stroke-width="0.15">Months</text><text x="105.3" y="29.5" font-size="6.6" text-anchor="end" fill="#222" stroke="#222" >N</text><text x="122.5" y="29.5" font-size="6.6" text-anchor="end" fill="#222" stroke="#222" >F</text><text x="55.2" y="37.4" font-size="6.6" text-anchor="start" fill="#222" stroke="#222" >MRD</text><text x="105.3" y="37.4" font-size="6.6" text-anchor="end" fill="#222" stroke="#222" >3511</text><text x="122.5" y="37.4" font-size="6.6" text-anchor="end" fill="#222" stroke="#222" >582</text><text x="55.2" y="45.3" font-size="6.6" text-anchor="start" fill="#222" stroke="#222" >MUD 10/10</text><text x="105.3" y="45.3" font-size="6.6" text-anchor="end" fill="#222" stroke="#222" >1959</text><text x="122.5" y="45.3" font-size="6.6" text-anchor="end" fill="#222" stroke="#222" >384</text><text x="55.2" y="53.2" font-size="6.6" text-anchor="start" fill="#222" stroke="#222" >MUD 9/10</text><text x="105.3" y="53.2" font-size="6.6" text-anchor="end" fill="#222" stroke="#222" >549</text><text x="122.5" y="53.2" font-size="6.6" text-anchor="end" fill="#222" stroke="#222" >129</text><text x="55.2" y="61.1" font-size="6.6" text-anchor="start" fill="#222" stroke="#222" >UCB</text><text x="105.3" y="61.1" font-size="6.6" text-anchor="end" fill="#222" stroke="#222" >333</text><text x="122.5" y="61.1" font-size="6.6" text-anchor="end" fill="#222" stroke="#222" >94</text><text x="55.2" y="69.0" font-size="6.6" text-anchor="start" fill="#222" stroke="#222" >Haplo</text><text x="105.3" y="69.0" font-size="6.6" text-anchor="end" fill="#222" stroke="#222" >193</text><text x="122.5" y="69.0" font-size="6.6" text-anchor="end" fill="#222" stroke="#222" >52</text><text x="55.2" y="76.9" font-size="6.6" text-anchor="start" fill="#222" stroke="#222" letter-spacing="-0.12">Cox LR P&lt;.0001</text><text x="247.2" y="92.80000000000001" font-size="7.2" text-anchor="end" fill="#dac982" stroke="#dac982" >UCB</text><text x="247.2" y="101.39999999999998" font-size="7.2" text-anchor="end" fill="#9696b4" stroke="#9696b4" >Haplo</text><text x="247.2" y="109.30000000000001" font-size="7.2" text-anchor="end" fill="#7a9a70" stroke="#7a9a70" >MUD 9/10</text><text x="247.2" y="129.39999999999998" font-size="7.2" text-anchor="end" fill="#6e2a45" stroke="#6e2a45" >MUD 10/10</text><text x="247.2" y="137.8" font-size="7.2" text-anchor="end" fill="#48526e" stroke="#48526e" >MRD</text><text x="50" y="179.5" font-size="6.8" text-anchor="start" fill="#222" stroke="#222" >At risk:</text><text x="43.2" y="188.0" font-size="6.8" text-anchor="end" fill="#222" stroke="#222" >MRD</text><text x="50" y="188.0" font-size="6.8" text-anchor="start" fill="#222" stroke="#222" >3511</text><text x="156.5" y="188.0" font-size="6.8" text-anchor="end" fill="#222" stroke="#222" >1868</text><text x="251.5" y="188.0" font-size="6.8" text-anchor="end" fill="#222" stroke="#222" >1383</text><text x="43.2" y="196.6" font-size="6.8" text-anchor="end" fill="#222" stroke="#222" >MUD 10/10</text><text x="50" y="196.6" font-size="6.8" text-anchor="start" fill="#222" stroke="#222" >1959</text><text x="156.5" y="196.6" font-size="6.8" text-anchor="end" fill="#222" stroke="#222" >942</text><text x="251.5" y="196.6" font-size="6.8" text-anchor="end" fill="#222" stroke="#222" >616</text><text x="43.2" y="205.2" font-size="6.8" text-anchor="end" fill="#222" stroke="#222" >MUD 9/10</text><text x="50" y="205.2" font-size="6.8" text-anchor="start" fill="#222" stroke="#222" >549</text><text x="156.5" y="205.2" font-size="6.8" text-anchor="end" fill="#222" stroke="#222" >241</text><text x="251.5" y="205.2" font-size="6.8" text-anchor="end" fill="#222" stroke="#222" >162</text><text x="43.2" y="213.8" font-size="6.8" text-anchor="end" fill="#222" stroke="#222" >UCB</text><text x="50" y="213.8" font-size="6.8" text-anchor="start" fill="#222" stroke="#222" >333</text><text x="156.5" y="213.8" font-size="6.8" text-anchor="end" fill="#222" stroke="#222" >147</text><text x="251.5" y="213.8" font-size="6.8" text-anchor="end" fill="#222" stroke="#222" >80</text><text x="43.2" y="222.4" font-size="6.8" text-anchor="end" fill="#222" stroke="#222" >Haplo</text><text x="50" y="222.4" font-size="6.8" text-anchor="start" fill="#222" stroke="#222" >193</text><text x="156.5" y="222.4" font-size="6.8" text-anchor="end" fill="#222" stroke="#222" >94</text><text x="251.5" y="222.4" font-size="6.8" text-anchor="end" fill="#222" stroke="#222" >53</text></g>
<path d="M312.4 380.0H314.3V379.1H316.5V377.5H318.5V376.0H320.6V374.3H322.6V372.3H325.1V369.8H326.8V368.5H329.3V366.6H330.4V366.2H332.2V365.7H334.0V365.2H335.4V364.9H338.1V364.3H339.9V363.8H342.8V363.0H346.0V362.3H347.6V362.0H350.7V361.3H353.6V360.6H356.1V360.1H357.3V359.8H359.4V359.3H361.9V358.7H363.6V358.3H365.2V358.0H367.0V357.5H368.7V357.2H371.5V356.5H373.4V356.1H375.4V355.6H377.9V355.3H381.1V355.1H382.8V354.9H384.0V354.8H387.3V354.8H390.2V354.7H393.1V353.9H395.3V353.2H396.9V352.7H398.4V352.5H400.1V352.1H402.2V351.7H403.5V351.4H406.1V351.0H408.8V350.6H410.0V350.4H412.9V349.9H415.1V349.8H418.2V349.7H420.4V349.7H423.2V349.7H425.3V349.6H427.8V349.6H430.0V349.5H431.1V349.5H432.5V349.4H434.1V349.4H436.1V349.3H438.0V349.2H440.3V349.1H442.9V349.0H444.9V348.8H446.7V348.7H448.9V348.4H452.1V348.1H454.9V347.8H457.4V347.6H460.3V347.3H461.9V347.2H463.3V347.1H464.6V346.9H465.9V346.8H467.1V346.8H469.5V346.8H472.7V346.8H474.0V346.8H476.6V346.8H479.8V346.8H482.6V346.8H484.0V346.8H486.5V346.8H488.2V346.8H489.7V346.8H490.8V346.8H493.0V346.8H496.2V346.8H497.5V346.8H498.9V346.8H500.9V346.8H502.1V346.8H504.2V346.8H506.0V346.8" fill="none" stroke="#8e8bb6" stroke-width="1.4" stroke-linejoin="round"/>
<path d="M312.4 380.0H314.6V379.0H317.5V377.1H320.7V375.1H322.5V374.1H325.3V372.3H327.9V370.5H330.5V369.1H331.8V368.5H333.0V368.1H334.9V367.3H337.7V366.2H339.3V365.5H341.5V364.7H343.3V363.8H346.3V362.3H349.5V361.3H351.4V360.7H354.7V359.9H356.0V359.7H358.9V359.0H361.9V358.3H363.3V357.9H366.0V357.3H368.3V356.8H371.5V356.2H373.1V355.9H375.3V355.4H378.4V354.7H380.9V354.0H382.7V353.6H384.0V353.2H387.1V352.9H389.3V352.7H392.6V351.9H394.0V351.5H396.9V350.7H399.7V350.2H402.9V349.8H404.0V349.6H405.9V349.3H407.1V349.1H409.9V348.7H411.8V348.4H415.0V348.0H416.9V347.9H419.7V347.7H422.7V347.5H424.3V347.4H426.7V347.3H429.9V347.0H432.1V346.8H434.0V346.7H435.7V346.5H438.5V346.3H440.1V346.2H442.5V346.0H444.8V345.8H447.1V345.5H448.5V345.4H451.1V345.2H454.2V344.9H456.0V344.7H457.8V344.6H460.9V344.5H463.3V344.3H465.0V344.3H466.1V344.2H468.9V344.1H470.7V344.1H472.9V344.0H474.6V344.0H477.1V343.9H479.8V343.8H481.5V343.8H482.8V343.7H486.1V343.6H489.2V343.6H490.3V343.5H492.7V343.5H495.3V343.4H497.3V343.3H500.0V343.3H503.2V343.2H505.6V343.1H506.0V343.1" fill="none" stroke="#e0c752" stroke-width="1.4" stroke-linejoin="round"/>
<path d="M312.4 380.0H313.9V379.3H316.5V377.9H318.3V376.8H319.8V376.0H322.0V374.8H324.2V373.7H326.3V372.6H328.5V371.3H330.1V370.3H331.8V369.4H334.4V368.0H336.2V367.3H338.8V366.3H341.6V365.5H344.7V364.6H347.8V363.5H349.4V362.9H351.1V362.3H353.8V361.3H356.1V360.3H357.7V359.7H360.3V358.9H363.3V358.3H366.2V357.6H367.8V357.3H369.6V356.9H370.7V356.7H373.9V356.1H375.5V355.8H378.2V355.6H380.5V355.5H382.9V355.4H385.2V355.3H388.1V355.4H390.5V355.4H392.3V354.9H393.6V354.5H395.8V353.9H398.9V353.6H400.3V353.5H402.9V353.4H405.4V353.3H406.9V353.2H408.4V353.1H411.0V353.0H413.1V352.8H415.1V352.7H417.3V352.6H418.6V352.5H421.2V352.4H423.6V352.2H425.9V352.1H427.7V352.0H430.6V351.8H433.5V351.7H435.8V351.5H437.1V351.5H438.6V351.4H440.0V351.3H441.3V351.2H443.8V351.1H446.1V351.0H447.6V351.0H450.7V350.9H453.2V350.8H456.1V350.7H459.0V350.6H461.6V350.5H463.8V350.4H467.1V350.3H468.5V350.2H471.1V350.2H474.1V350.1H476.3V350.1H479.2V350.0H480.7V350.0H482.7V349.9H484.4V349.9H486.4V349.8H489.0V349.8H490.4V349.8H492.3V349.7H495.2V349.6H497.0V349.6H498.4V349.6H501.7V349.5H504.0V349.4H505.1V349.4H506.0V349.4" fill="none" stroke="#55924a" stroke-width="1.4" stroke-linejoin="round"/>
<path d="M312.4 380.0H315.0V378.9H317.8V377.9H320.1V377.1H322.3V376.2H324.3V375.5H327.5V374.1H329.3V373.4H330.7V373.0H332.4V372.5H334.1V372.1H335.9V371.5H337.6V371.0H338.9V370.6H340.7V370.0H342.5V369.5H344.9V368.8H346.4V368.3H347.7V368.0H349.2V367.6H351.5V366.9H353.4V366.5H356.2V366.0H359.0V365.5H361.0V365.2H362.4V365.0H365.1V364.6H367.8V364.2H369.8V363.9H372.3V363.5H374.1V363.3H377.2V362.8H380.1V362.4H383.0V361.9H386.2V361.5H387.8V361.4H390.1V361.2H392.8V360.9H395.7V360.7H397.6V360.5H399.0V360.3H401.5V360.1H402.8V359.9H405.5V359.7H406.6V359.6H408.7V359.4H410.9V359.2H412.2V359.1H414.4V358.9H416.6V358.7H418.5V358.5H421.6V358.2H424.6V357.9H427.6V357.6H429.3V357.5H430.4V357.5H432.4V357.3H433.7V357.3H436.4V357.1H438.0V357.0H439.4V356.9H441.1V356.8H443.1V356.7H445.9V356.5H448.0V356.4H449.7V356.3H452.3V356.1H453.5V356.1H455.1V356.0H457.7V355.8H460.4V355.6H461.8V355.5H463.0V355.4H465.2V355.3H467.8V355.2H468.9V355.1H471.0V355.1H472.7V355.1H474.0V355.0H475.4V355.0H477.2V355.0H479.3V354.9H480.6V354.9H483.1V354.9H486.1V354.8H488.7V354.7H490.0V354.7H492.5V354.7H495.0V354.6H496.1V354.6H498.1V354.6H500.6V354.5H503.8V354.4H506.0V354.4" fill="none" stroke="#901c48" stroke-width="1.4" stroke-linejoin="round"/>
<path d="M312.4 380.0H315.5V379.0H318.1V378.4H320.9V377.7H324.0V377.1H325.7V376.7H328.1V375.9H331.2V375.0H334.3V374.2H336.6V373.7H338.1V373.4H340.1V373.0H343.4V372.4H344.7V372.1H346.5V371.7H349.7V371.3H351.8V371.0H353.4V370.8H355.1V370.5H358.2V370.0H360.1V369.7H362.1V369.4H364.6V369.0H367.5V368.6H369.7V368.4H370.9V368.3H373.3V368.0H374.5V367.9H375.8V367.8H377.3V367.7H379.9V367.4H381.7V367.2H384.3V366.9H385.7V366.8H387.1V366.7H388.2V366.6H390.9V366.3H393.9V365.8H395.5V365.5H397.1V365.3H398.2V365.2H400.7V365.1H402.5V365.0H403.9V365.0H406.4V364.8H408.8V364.7H410.9V364.6H412.4V364.6H414.9V364.4H417.2V364.2H419.2V364.0H420.7V363.9H423.9V363.7H426.8V363.4H429.5V363.3H432.8V363.1H435.1V363.1H437.0V363.0H438.3V363.0H440.8V362.9H443.0V362.8H445.1V362.7H448.4V362.6H451.3V362.5H452.7V362.4H455.7V362.3H456.8V362.3H459.4V362.2H461.1V362.1H463.9V362.0H467.1V361.9H469.3V361.9H472.1V361.9H473.3V361.9H475.9V361.9H477.2V361.9H479.3V361.9H481.2V361.9H482.4V361.9H485.2V361.9H486.5V361.8H488.2V361.8H489.4V361.8H492.0V361.8H493.8V361.8H495.0V361.8H496.1V361.8H497.7V361.8H499.9V361.8H501.0V361.8H502.2V361.8H504.8V361.8H506.0V361.8" fill="none" stroke="#2c3d70" stroke-width="1.4" stroke-linejoin="round"/>
</g>
<rect x="0" y="0" width="520" height="464" fill="none" stroke="#000" stroke-width="3"/>
</svg>
</body></html>
